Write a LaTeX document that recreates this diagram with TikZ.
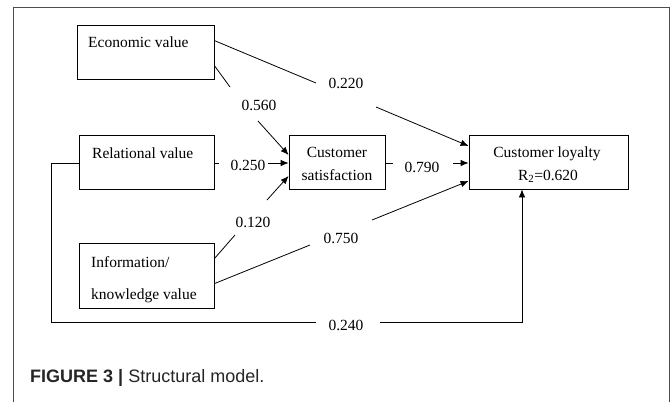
\documentclass[tikz,border=0pt]{standalone}
\usepackage{fontspec}
\setmainfont{Liberation Serif}
\newfontfamily\capfont{Liberation Sans}
\usetikzlibrary{arrows.meta}
\begin{document}
\begin{tikzpicture}[x=1pt,y=-1pt,
  box/.style={draw=black,line width=0.8pt,inner sep=0pt},
  txt/.style={inner sep=0pt,font=\fontsize{15.5}{18}\selectfont},
  lbl/.style={inner sep=0pt,anchor=base,font=\fontsize{15.5}{18}\selectfont},
  conn/.style={draw=black,line width=0.8pt},
  arr/.style={conn,-{Latex[length=8pt,width=6.5pt]}}]
\useasboundingbox (0,0) rectangle (672,402);
\fill[white] (0,0) rectangle (672,402);
\draw[line width=1pt,draw=black!70] (13,402) -- (13,7) -- (669,7) -- (669,402);
% boxes
\node[box,minimum width=137pt,minimum height=54pt] (econ) at (145.5,52) {};
\node[box,minimum width=135pt,minimum height=54pt] (rel) at (146.5,162) {};
\node[box,minimum width=135pt,minimum height=65pt] (info) at (146.5,275.5) {};
\node[box,minimum width=96pt,minimum height=54pt] (sat) at (337,162) {};
\node[box,minimum width=159pt,minimum height=54pt] (loy) at (548.5,162) {};
% texts
\node[txt,anchor=base west] (tecon) at (88,47) {Economic value};
\node[txt,anchor=base west] (trel) at (92,158) {Relational value};
\node[txt,anchor=base west] (tinfo1) at (91,267) {Information/};
\node[txt,anchor=base west] (tinfo2) at (91,299) {knowledge value};
\node[lbl] (tsat1) at (337,157) {Customer};
\node[lbl] (tsat2) at (337,180) {satisfaction};
\node[lbl] (tloy1) at (547,157) {Customer loyalty};
\node[lbl] (tloy2) at (548,180) {R\textsubscript{2}=0.620};
% path labels
\node[lbl] (l220) at (346,88) {0.220};
\node[lbl] (l560) at (259,110) {0.560};
\node[lbl] (l250) at (248,170) {0.250};
\node[lbl] (l790) at (422,172) {0.790};
\node[lbl] (l120) at (253,227) {0.120};
\node[lbl] (l750) at (341,243) {0.750};
\node[lbl] (l240) at (346,330) {0.240};
% break points
\coordinate (a1) at (316,83); \coordinate (a2) at (376,107);
\coordinate (b1) at (230,87); \coordinate (b2) at (258,121);
\coordinate (c1) at (219,163); \coordinate (c2) at (268,163);
\coordinate (d1) at (393,163); \coordinate (d2) at (453,163);
\coordinate (e1) at (235,235); \coordinate (e2) at (267,200);
\coordinate (f1) at (310,245); \coordinate (f2) at (372,220);
\coordinate (g1) at (51,163); \coordinate (g2) at (51,322);
\coordinate (g3) at (316,322); \coordinate (g4) at (380,322); \coordinate (g5) at (522,322);
% connectors
\draw[conn] (econ.north east) ++(0,16) -- (a1);
\draw[arr] (a2) -- (loy.north west |- 0,146);
\draw[conn] (econ.north east) ++(0,41) -- (b1);
\draw[arr] (b2) -- (sat.west |- 0,155);
\draw[conn] (rel.east) ++(0,1) -- (c1);
\draw[arr] (c2) -- (sat.west |- 0,163);
\draw[conn] (sat.east) ++(0,1) -- (d1);
\draw[arr] (d2) -- (loy.west |- 0,163);
\draw[conn] (info.north east) ++(0,16) -- (e1);
\draw[arr] (e2) -- (sat.west |- 0,176);
\draw[conn] (info.north east) ++(0,41) -- (f1);
\draw[arr] (f2) -- (loy.west |- 0,181);
\draw[conn] (rel.west) ++(0,1) -- (g1) -- (g2) -- (g3);
\draw[arr] (g4) -- (g5) -- (loy.south -| g5);
% caption
\node[inner sep=0pt,anchor=base west,font=\capfont\fontsize{18}{20}\selectfont,text=black!85] (cap) at (30,382) {\textbf{FIGURE 3 |} Structural model.};
\end{tikzpicture}
\end{document}
